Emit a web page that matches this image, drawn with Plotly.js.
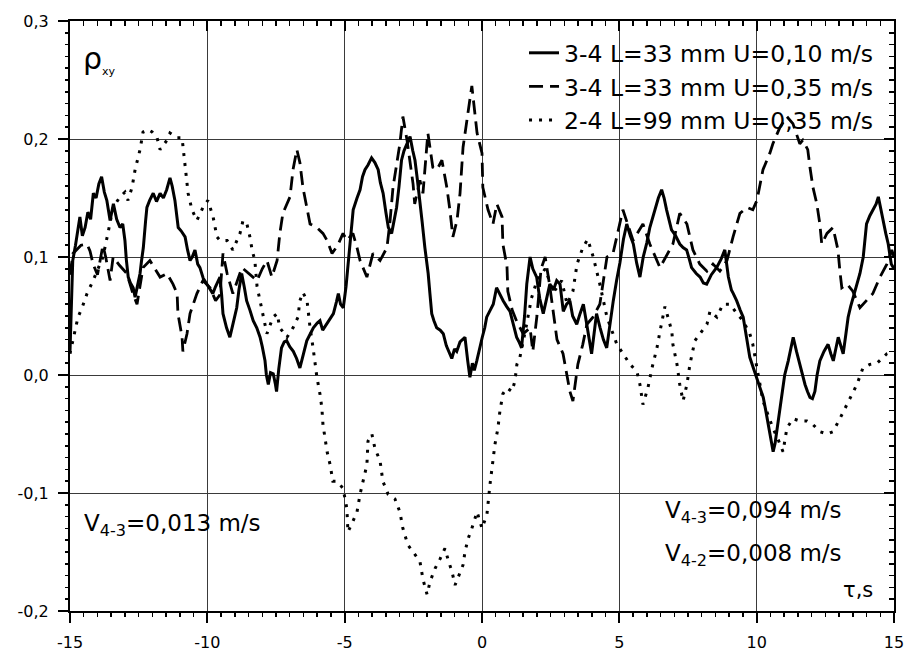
<!DOCTYPE html>
<html>
<head>
<meta charset="utf-8">
<script src="https://cdn.plot.ly/plotly-3.0.1.min.js"></script>
<style>html,body{margin:0;padding:0;background:#fff;}#chart{width:905px;height:653px;}</style>
</head>
<body>
<div id="chart"></div>
<script>
// ---- data ----
const seriesNames = ["3-4 L=33 mm U=0,10 m/s", "3-4 L=33 mm U=0,35 m/s", "2-4 L=99 mm U=0,35 m/s"];

const solidX = [-15.0,-14.95,-14.9,-14.8,-14.7,-14.64,-14.55,-14.45,-14.35,-14.25,-14.15,-14.05,-13.95,-13.85,-13.75,-13.66,-13.54,-13.42,-13.3,-13.18,-13.08,-13.0,-12.95,-12.88,-12.8,-12.7,-12.63,-12.55,-12.45,-12.4,-12.33,-12.25,-12.2,-12.1,-11.97,-11.85,-11.72,-11.6,-11.48,-11.36,-11.28,-11.18,-11.06,-10.95,-10.81,-10.72,-10.63,-10.55,-10.45,-10.35,-10.27,-10.15,-10.02,-9.9,-9.8,-9.7,-9.6,-9.54,-9.48,-9.43,-9.3,-9.18,-9.1,-9.0,-8.93,-8.85,-8.75,-8.65,-8.57,-8.45,-8.33,-8.2,-8.08,-8.0,-7.9,-7.85,-7.78,-7.7,-7.6,-7.52,-7.48,-7.4,-7.3,-7.2,-7.11,-7.0,-6.87,-6.75,-6.63,-6.5,-6.38,-6.25,-6.14,-6.0,-5.9,-5.8,-5.65,-5.5,-5.41,-5.3,-5.23,-5.15,-5.05,-4.95,-4.87,-4.78,-4.69,-4.55,-4.44,-4.35,-4.26,-4.15,-4.02,-3.9,-3.78,-3.7,-3.6,-3.5,-3.41,-3.29,-3.2,-3.11,-3.02,-2.93,-2.84,-2.74,-2.62,-2.52,-2.44,-2.35,-2.26,-2.18,-2.08,-1.96,-1.9,-1.83,-1.75,-1.65,-1.52,-1.41,-1.3,-1.2,-1.1,-1.0,-0.92,-0.8,-0.7,-0.62,-0.52,-0.44,-0.35,-0.28,-0.19,-0.1,0.01,0.1,0.17,0.3,0.41,0.53,0.65,0.77,0.9,1.02,1.15,1.26,1.35,1.44,1.55,1.63,1.75,1.85,1.99,2.1,2.23,2.35,2.47,2.6,2.72,2.84,2.96,3.08,3.2,3.3,3.45,3.57,3.69,3.8,3.9,3.99,4.08,4.17,4.3,4.42,4.54,4.66,4.78,4.9,5.02,5.15,5.27,5.4,5.51,5.63,5.75,5.87,6.0,6.11,6.2,6.3,6.42,6.54,6.63,6.72,6.81,6.9,7.05,7.2,7.32,7.45,7.55,7.63,7.8,7.94,8.06,8.18,8.35,8.54,8.7,8.84,8.97,9.08,9.15,9.27,9.4,9.51,9.63,9.75,9.88,10.0,10.12,10.24,10.33,10.42,10.5,10.6,10.67,10.73,10.82,10.91,11.02,11.15,11.25,11.33,11.45,11.57,11.66,11.76,11.85,11.94,12.03,12.12,12.2,12.3,12.45,12.6,12.7,12.79,12.88,12.97,13.06,13.15,13.25,13.33,13.42,13.52,13.64,13.76,13.88,14.0,14.12,14.24,14.35,14.43,14.52,14.6,14.7,14.79,14.9,15.0];
const solidY = [0.02,0.06,0.097,0.11,0.125,0.134,0.118,0.125,0.138,0.132,0.154,0.15,0.162,0.168,0.155,0.148,0.131,0.145,0.132,0.125,0.128,0.114,0.098,0.083,0.078,0.074,0.066,0.075,0.086,0.096,0.108,0.13,0.142,0.148,0.154,0.147,0.154,0.15,0.157,0.167,0.16,0.148,0.125,0.122,0.117,0.106,0.097,0.1,0.106,0.094,0.091,0.082,0.077,0.072,0.069,0.075,0.08,0.083,0.068,0.052,0.04,0.032,0.04,0.05,0.057,0.072,0.086,0.074,0.063,0.055,0.046,0.04,0.032,0.024,0.012,0.0,-0.008,0.002,0.001,-0.008,-0.014,0.005,0.023,0.028,0.029,0.024,0.02,0.014,0.006,0.018,0.029,0.035,0.04,0.044,0.046,0.038,0.043,0.048,0.052,0.062,0.069,0.06,0.057,0.075,0.097,0.12,0.14,0.15,0.157,0.168,0.174,0.178,0.184,0.18,0.174,0.163,0.154,0.138,0.125,0.12,0.13,0.142,0.16,0.182,0.19,0.196,0.202,0.19,0.182,0.165,0.148,0.13,0.108,0.086,0.07,0.052,0.046,0.04,0.038,0.035,0.025,0.02,0.014,0.022,0.02,0.028,0.03,0.032,0.012,-0.002,0.01,0.004,0.012,0.022,0.032,0.04,0.049,0.055,0.06,0.074,0.068,0.063,0.058,0.054,0.042,0.032,0.028,0.023,0.05,0.077,0.1,0.09,0.083,0.065,0.052,0.066,0.077,0.072,0.08,0.077,0.054,0.06,0.063,0.05,0.043,0.052,0.06,0.045,0.03,0.018,0.035,0.052,0.04,0.03,0.023,0.045,0.063,0.08,0.095,0.115,0.128,0.118,0.111,0.095,0.083,0.1,0.112,0.125,0.132,0.14,0.15,0.157,0.15,0.14,0.13,0.123,0.118,0.111,0.108,0.106,0.098,0.091,0.086,0.083,0.078,0.077,0.085,0.091,0.098,0.106,0.083,0.072,0.069,0.063,0.055,0.049,0.032,0.015,0.006,-0.002,-0.01,-0.019,-0.03,-0.042,-0.055,-0.065,-0.058,-0.048,-0.03,-0.016,0.0,0.012,0.024,0.032,0.02,0.009,0.0,-0.008,-0.014,-0.019,-0.02,-0.014,0.0,0.012,0.02,0.026,0.018,0.012,0.022,0.032,0.025,0.018,0.035,0.049,0.058,0.066,0.075,0.086,0.1,0.128,0.135,0.14,0.145,0.151,0.14,0.131,0.12,0.111,0.094,0.09];

const dashX = [-15.0,-14.89,-14.6,-14.38,-14.27,-14.16,-14.0,-13.8,-13.7,-13.54,-13.43,-13.2,-12.93,-12.71,-12.56,-12.34,-12.09,-11.72,-11.47,-11.25,-11.1,-11.07,-10.92,-10.89,-10.74,-10.63,-10.38,-10.16,-9.9,-9.7,-9.54,-9.43,-9.28,-9.07,-8.74,-8.45,-8.19,-8.0,-7.83,-7.65,-7.46,-7.36,-7.25,-6.99,-6.88,-6.74,-6.63,-6.52,-6.37,-6.26,-6.01,-5.79,-5.64,-5.46,-5.25,-5.06,-4.92,-4.7,-4.55,-4.44,-4.19,-3.97,-3.71,-3.46,-3.35,-3.24,-2.99,-2.88,-2.73,-2.62,-2.51,-2.45,-2.26,-2.15,-1.97,-1.79,-1.64,-1.46,-1.28,-1.17,-1.06,-0.91,-0.8,-0.69,-0.44,-0.37,-0.18,0.0,0.03,0.22,0.4,0.54,0.73,0.76,0.91,0.94,1.1,1.27,1.5,1.75,1.85,2.0,2.15,2.3,2.47,2.6,2.73,2.95,3.09,3.2,3.31,3.46,3.49,3.67,3.82,4.04,4.29,4.55,4.77,5.13,5.5,5.86,6.11,6.48,6.95,7.2,7.46,7.68,7.93,8.19,8.41,8.66,8.92,9.14,9.39,9.65,9.86,10.01,10.23,10.48,10.59,10.85,11.1,11.32,11.57,11.68,11.86,11.94,12.05,12.19,12.3,12.37,12.56,12.78,12.96,13.03,13.1,13.29,13.5,13.76,14.01,14.23,14.49,14.74,14.92,15.0];
const dashY = [0.085,0.103,0.11,0.111,0.105,0.094,0.085,0.11,0.1,0.08,0.1,0.093,0.086,0.069,0.06,0.091,0.097,0.083,0.086,0.077,0.069,0.052,0.032,0.02,0.035,0.052,0.069,0.08,0.074,0.063,0.068,0.103,0.086,0.069,0.091,0.085,0.08,0.09,0.097,0.083,0.097,0.12,0.137,0.151,0.174,0.191,0.18,0.159,0.14,0.128,0.125,0.12,0.114,0.103,0.11,0.12,0.114,0.12,0.108,0.097,0.083,0.103,0.097,0.108,0.13,0.159,0.196,0.219,0.199,0.182,0.162,0.145,0.165,0.154,0.205,0.176,0.174,0.182,0.159,0.14,0.117,0.131,0.154,0.193,0.233,0.245,0.205,0.188,0.159,0.14,0.128,0.145,0.134,0.111,0.092,0.071,0.055,0.045,0.035,0.04,0.02,0.05,0.09,0.1,0.075,0.05,0.03,0.018,-0.002,-0.014,-0.022,0.001,0.009,0.026,0.043,0.049,0.06,0.1,0.103,0.14,0.114,0.128,0.111,0.091,0.111,0.137,0.128,0.106,0.094,0.088,0.094,0.088,0.097,0.117,0.137,0.142,0.14,0.148,0.174,0.188,0.196,0.21,0.219,0.213,0.196,0.199,0.191,0.176,0.159,0.145,0.128,0.111,0.12,0.125,0.106,0.088,0.074,0.077,0.071,0.057,0.063,0.069,0.083,0.094,0.106,0.1];

const dotX = [-15.0,-14.93,-14.82,-14.71,-14.56,-14.38,-14.16,-14.02,-13.8,-13.62,-13.43,-13.18,-13.0,-12.89,-12.74,-12.63,-12.45,-12.34,-12.16,-12.01,-11.83,-11.72,-11.47,-11.36,-11.1,-10.92,-10.81,-10.7,-10.56,-10.38,-10.16,-9.98,-9.79,-9.65,-9.54,-9.28,-9.07,-8.81,-8.7,-8.56,-8.45,-8.37,-8.27,-8.19,-8.01,-7.83,-7.61,-7.46,-7.36,-7.1,-6.88,-6.7,-6.63,-6.52,-6.37,-6.26,-6.15,-6.01,-5.9,-5.83,-5.79,-5.64,-5.53,-5.43,-5.28,-5.06,-4.92,-4.88,-4.7,-4.55,-4.44,-4.33,-4.19,-4.15,-4.01,-3.9,-3.71,-3.61,-3.42,-3.17,-2.99,-2.88,-2.7,-2.51,-2.26,-2.15,-2.0,-1.89,-1.71,-1.53,-1.35,-1.24,-1.09,-0.98,-0.8,-0.69,-0.62,-0.51,-0.37,-0.18,0.0,0.18,0.29,0.36,0.47,0.58,0.65,0.76,0.91,1.09,1.2,1.27,1.38,1.6,1.8,2.0,2.3,2.6,2.9,3.1,3.31,3.46,3.67,3.85,4.05,4.29,4.55,4.91,5.13,5.39,5.64,5.75,5.86,6.04,6.19,6.37,6.48,6.59,6.66,6.77,6.91,6.95,7.1,7.2,7.32,7.46,7.57,7.75,7.93,8.19,8.3,8.55,8.77,9.03,9.28,9.5,9.75,9.86,10.01,10.12,10.23,10.37,10.59,10.77,10.96,11.1,11.32,11.57,11.83,12.05,12.3,12.56,12.78,13.03,13.29,13.5,13.65,13.87,14.12,14.38,14.6,14.74,15.0];
const dotY = [0.018,0.026,0.037,0.049,0.057,0.069,0.08,0.088,0.1,0.12,0.142,0.151,0.155,0.148,0.159,0.174,0.191,0.206,0.208,0.206,0.201,0.191,0.199,0.205,0.201,0.201,0.176,0.154,0.14,0.131,0.142,0.148,0.134,0.117,0.114,0.114,0.106,0.12,0.131,0.128,0.117,0.106,0.097,0.075,0.055,0.035,0.049,0.052,0.04,0.032,0.04,0.049,0.063,0.07,0.063,0.04,0.023,-0.002,-0.016,-0.028,-0.042,-0.065,-0.076,-0.09,-0.09,-0.096,-0.113,-0.133,-0.124,-0.116,-0.101,-0.09,-0.076,-0.056,-0.05,-0.062,-0.073,-0.09,-0.101,-0.105,-0.116,-0.13,-0.144,-0.15,-0.158,-0.173,-0.186,-0.175,-0.164,-0.156,-0.147,-0.156,-0.167,-0.178,-0.167,-0.161,-0.15,-0.139,-0.13,-0.116,-0.13,-0.118,-0.093,-0.079,-0.059,-0.045,-0.031,-0.016,-0.011,-0.014,-0.005,0.009,0.015,0.04,0.065,0.08,0.09,0.07,0.08,0.06,0.071,0.094,0.108,0.115,0.1,0.077,0.049,0.026,0.018,0.009,0.003,-0.008,-0.025,-0.011,0.006,0.023,0.037,0.052,0.058,0.049,0.037,0.026,0.009,-0.008,-0.022,-0.008,0.009,0.029,0.035,0.043,0.054,0.049,0.06,0.06,0.052,0.046,0.035,0.026,0.006,-0.008,-0.022,-0.031,-0.045,-0.054,-0.065,-0.045,-0.037,-0.039,-0.039,-0.042,-0.048,-0.05,-0.048,-0.037,-0.025,-0.016,-0.008,0.006,0.009,0.01,0.015,0.018,0.02];

const xTickVals = [-15,-10,-5,0,5,10,15];
const xTickText = ["-15","-10","-5","0","5","10","15"];
const yTickVals = [-0.2,-0.1,0.0,0.1,0.2,0.3];
const yTickText = ["-0,2","-0,1","0,0","0,1","0,2","0,3"];

// ---- chart ----
const FONT = "DejaVu Sans, Arial, sans-serif";
const XR = [-15, 15], YR = [-0.2, 0.3];
const traces = [
  {x: solidX, y: solidY, name: seriesNames[0], mode: "lines", line: {color: "#000", width: 3}},
  {x: dashX, y: dashY, name: seriesNames[1], mode: "lines", line: {color: "#000", width: 2.8, dash: "14px,7px"}},
  {x: dotX, y: dotY, name: seriesNames[2], mode: "lines", line: {color: "#000", width: 3, dash: "3px,7px"}},
  {x: [], y: [], xaxis: "x2", yaxis: "y2", showlegend: false, hoverinfo: "skip"},
  {x: [], y: [], xaxis: "x3", yaxis: "y3", showlegend: false, hoverinfo: "skip"},
  {x: [], y: [], xaxis: "x4", yaxis: "y4", showlegend: false, hoverinfo: "skip"}
];

function tickAxis(extra) {
  return Object.assign({showticklabels: false, showgrid: false, zeroline: false, tickcolor: "#000",
                        fixedrange: true}, extra);
}

const layout = {
  width: 905, height: 653,
  margin: {l: 70, r: 11, t: 21, b: 42},
  paper_bgcolor: "#fff", plot_bgcolor: "#fff",
  font: {family: FONT, color: "#000", size: 16},
  showlegend: true,
  legend: {x: 0.551, y: 0.983, xanchor: "left", yanchor: "top", bgcolor: "rgba(0,0,0,0)",
           font: {family: FONT, size: 23.5, color: "#000"}, tracegroupgap: 0, itemwidth: 30},
  // main axes: labels, major ticks (outside), grid
  xaxis: {range: XR, tickmode: "array", tickvals: xTickVals, ticktext: xTickText, ticks: "outside", ticklen: 10, tickwidth: 2,
          tickcolor: "#000", showline: true, linewidth: 2, linecolor: "#000", showgrid: true, gridcolor: "#3a3a3a",
          gridwidth: 1, zeroline: false, ticklabelstandoff: 6, tickfont: {family: FONT, size: 16}, fixedrange: true},
  yaxis: {range: YR, tickmode: "array", tickvals: yTickVals, ticktext: yTickText, ticks: "outside", ticklen: 10, tickwidth: 2,
          tickcolor: "#000", showline: true, linewidth: 2, linecolor: "#000", showgrid: true, gridcolor: "#3a3a3a",
          gridwidth: 1, zeroline: false, ticklabelstandoff: 6, tickfont: {family: FONT, size: 16}, fixedrange: true},
  // top / right frame with inward major ticks
  xaxis2: tickAxis({range: XR, overlaying: "x", side: "top", anchor: "y2", tickmode: "linear", tick0: -15, dtick: 5,
           ticks: "inside", ticklen: 10, tickwidth: 2, showline: true, linewidth: 2, linecolor: "#000"}),
  yaxis2: tickAxis({range: YR, overlaying: "y", side: "right", anchor: "x2", tickmode: "linear", tick0: -0.2, dtick: 0.1,
           ticks: "inside", ticklen: 10, tickwidth: 2, showline: true, linewidth: 2, linecolor: "#000"}),
  // minor ticks pointing outward on bottom / left (free axes placed at the bottom/left edges)
  xaxis3: tickAxis({range: XR, overlaying: "x", side: "top", anchor: "free", position: 0, tickmode: "linear", tick0: -15, dtick: 0.5,
           ticks: "inside", ticklen: 5, tickwidth: 1.5, showline: false}),
  yaxis3: tickAxis({range: YR, overlaying: "y", side: "right", anchor: "free", position: 0, tickmode: "linear", tick0: -0.2, dtick: 0.01,
           ticks: "inside", ticklen: 5, tickwidth: 1.5, showline: false}),
  // minor ticks pointing inward on top / right
  xaxis4: tickAxis({range: XR, overlaying: "x", side: "top", anchor: "y4", tickmode: "linear", tick0: -15, dtick: 0.5,
           ticks: "inside", ticklen: 5, tickwidth: 1.5, showline: false}),
  yaxis4: tickAxis({range: YR, overlaying: "y", side: "right", anchor: "x4", tickmode: "linear", tick0: -0.2, dtick: 0.01,
           ticks: "inside", ticklen: 5, tickwidth: 1.5, showline: false}),
  annotations: [
    {xref: "paper", yref: "paper", x: 0.013, y: 0.97, xanchor: "left", yanchor: "top", showarrow: false,
     text: "ρ<sub><span style=\"font-size:11px\">xy</span></sub>", font: {family: FONT, size: 30}},
    {xref: "paper", yref: "paper", x: 0.014, y: 0.146, xanchor: "left", yanchor: "middle", showarrow: false,
     text: "V<sub>4-3</sub>=0,013 m/s", font: {family: FONT, size: 23}},
    {xref: "paper", yref: "paper", x: 0.72, y: 0.168, xanchor: "left", yanchor: "middle", showarrow: false,
     text: "V<sub>4-3</sub>=0,094 m/s", font: {family: FONT, size: 23}},
    {xref: "paper", yref: "paper", x: 0.72, y: 0.095, xanchor: "left", yanchor: "middle", showarrow: false,
     text: "V<sub>4-2</sub>=0,008 m/s", font: {family: FONT, size: 23}},
    {xref: "paper", yref: "paper", x: 0.977, y: 0.036, xanchor: "right", yanchor: "middle", showarrow: false,
     text: "τ,s", font: {family: FONT, size: 21}}
  ]
};

Plotly.newPlot("chart", traces, layout, {displayModeBar: false, staticPlot: true});
</script>
</body>
</html>
